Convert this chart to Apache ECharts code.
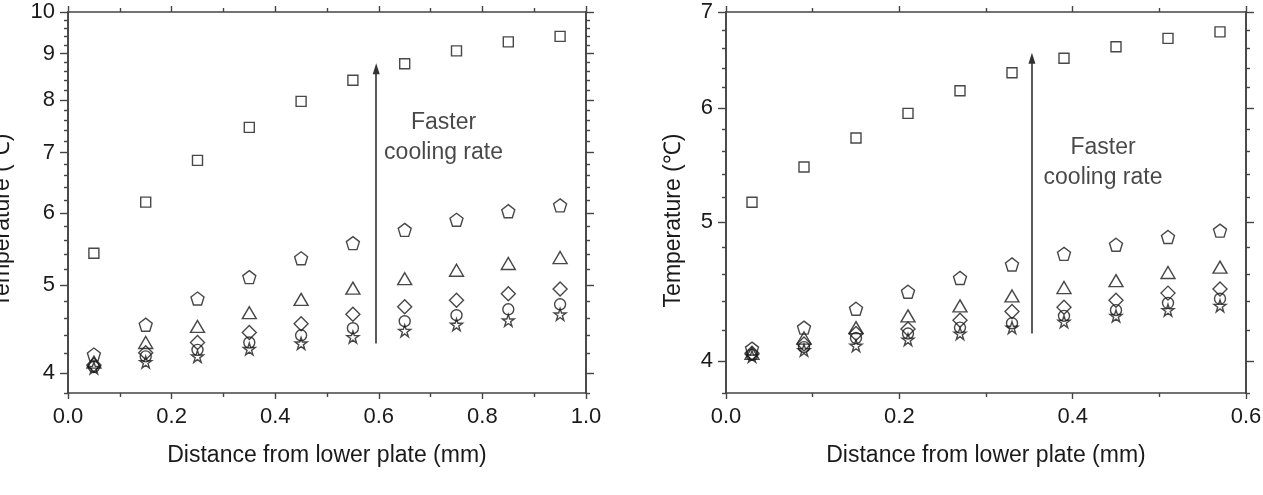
<!DOCTYPE html>
<html><head><meta charset="utf-8">
<script src="https://cdn.jsdelivr.net/npm/echarts@6/dist/echarts.min.js"></script>
<style>html,body{margin:0;padding:0;background:#fff}#c{width:1263px;height:495px}</style>
</head><body><div id="c"></div>
<script>
// ---------- data (left panel) ----------
const xLeft = [0.05, 0.15, 0.25, 0.35, 0.45, 0.55, 0.65, 0.75, 0.85, 0.95];
const leftSquare   = [5.42, 6.17, 6.86, 7.46, 7.97, 8.41, 8.77, 9.06, 9.27, 9.40];
const leftPentagon = [4.19, 4.52, 4.83, 5.10, 5.35, 5.56, 5.75, 5.90, 6.03, 6.12];
const leftTriangle = [4.11, 4.32, 4.50, 4.66, 4.82, 4.96, 5.08, 5.19, 5.28, 5.36];
const leftDiamond  = [4.08, 4.21, 4.32, 4.43, 4.53, 4.64, 4.73, 4.81, 4.89, 4.95];
const leftCircle   = [4.06, 4.17, 4.24, 4.32, 4.40, 4.48, 4.56, 4.63, 4.70, 4.76];
const leftStar     = [4.05, 4.11, 4.17, 4.25, 4.31, 4.38, 4.45, 4.52, 4.57, 4.64];

// ---------- data (right panel) ----------
const xRight = [0.03, 0.09, 0.15, 0.21, 0.27, 0.33, 0.39, 0.45, 0.51, 0.57];
const rightSquare   = [5.16, 5.46, 5.72, 5.95, 6.17, 6.35, 6.50, 6.62, 6.71, 6.78];
const rightPentagon = [4.08, 4.22, 4.35, 4.47, 4.57, 4.67, 4.75, 4.82, 4.88, 4.93];
const rightTriangle = [4.05, 4.15, 4.22, 4.30, 4.37, 4.44, 4.50, 4.55, 4.61, 4.65];
const rightDiamond  = [4.05, 4.11, 4.18, 4.21, 4.27, 4.33, 4.36, 4.41, 4.46, 4.49];
const rightCircle   = [4.04, 4.09, 4.15, 4.18, 4.22, 4.25, 4.30, 4.34, 4.39, 4.42];
const rightStar     = [4.03, 4.07, 4.10, 4.14, 4.18, 4.22, 4.26, 4.30, 4.34, 4.37];

// ---------- tick values ----------
const leftYMajor  = [4, 5, 6, 7, 8, 9, 10];
const leftYMinor  = [3.8, 4.2, 4.4, 4.6, 4.8, 5.2, 5.4, 5.6, 5.8, 6.2, 6.4, 6.6, 6.8,
                     7.2, 7.4, 7.6, 7.8, 8.2, 8.4, 8.6, 8.8, 9.2, 9.4, 9.6, 9.8];
const rightYMajor = [4, 5, 6, 7];
const rightYMinor = [3.8, 4.2, 4.4, 4.6, 4.8, 5.2, 5.4, 5.6, 5.8, 6.2, 6.4, 6.6, 6.8];
const leftXRange  = [0, 1.0];
const rightXRange = [0, 0.6];
const yRangeLeft  = [3.8, 10];
const yRangeRight = [3.8, 7];

// ---------- annotations ----------
const noteText = 'Faster\ncooling rate';
const xTitle = 'Distance from lower plate (mm)';
const yTitle = 'Temperature (\u2103)';
const leftArrow  = [0.595, 4.31, 8.66];   // x, from, to
const rightArrow = [0.353, 4.18, 6.50];
const leftNote   = [0.725, 7.26];
const rightNote  = [0.435, 5.50];

const FONT = "'Liberation Sans', Arial, sans-serif";
const AX = '#444';
const INK = '#1a1a1a';

const pentagonPath = 'path://M0,-1 L0.951,-0.309 L0.588,0.809 L-0.588,0.809 L-0.951,-0.309 Z';
const starPath = 'path://M0,-1 L0.225,-0.309 L0.951,-0.309 L0.363,0.118 L0.588,0.809 L0,0.382 L-0.588,0.809 L-0.363,0.118 L-0.951,-0.309 L-0.225,-0.309 Z';

function xAxes(grid, range, top) {
  return {
    type: 'value', gridIndex: grid, position: top ? 'top' : 'bottom',
    min: range[0], max: range[1], interval: 0.2,
    axisLine: { show: true, onZero: false, lineStyle: { color: AX, width: 1.6 } },
    axisTick: { show: true, inside: false, length: 6, lineStyle: { color: AX, width: 1.4 } },
    minorTick: { show: true, splitNumber: 2, length: 4, lineStyle: { color: AX, width: 1.4 } },
    splitLine: { show: false }, minorSplitLine: { show: false },
    axisLabel: { show: !top, margin: 13, fontSize: 22, fontFamily: FONT, color: INK,
                 formatter: v => v.toFixed(1) },
    name: top ? '' : xTitle, nameLocation: 'middle', nameGap: 51,
    nameTextStyle: { fontSize: 23, fontFamily: FONT, color: INK }
  };
}
function yAxes(grid, range, right, major, ticks, withLabel, gap) {
  return {
    type: 'log', logBase: 10, gridIndex: grid, position: right ? 'right' : 'left',
    min: range[0], max: range[1],
    axisLine: { show: true, onZero: false, lineStyle: { color: AX, width: 1.6 } },
    axisTick: { show: true, inside: false, length: major ? 8 : 4, customValues: ticks,
                lineStyle: { color: AX, width: 1.4 } },
    splitLine: { show: false },
    axisLabel: { show: withLabel, margin: 13, fontSize: 22, fontFamily: FONT, color: INK,
                 customValues: ticks, formatter: v => String(Math.round(v)) },
    name: withLabel ? yTitle : '', nameLocation: 'middle', nameGap: gap || 40,
    nameTextStyle: { fontSize: 23, fontFamily: FONT, color: INK, padding: [0, 36, 0, 0] }
  };
}

const styleHollow = { color: 'rgba(0,0,0,0)', borderColor: INK, borderWidth: 1.4 };
function sc(xs, ys, xi, yi, symbol, size) {
  return {
    type: 'scatter', xAxisIndex: xi, yAxisIndex: yi, symbol: symbol, symbolSize: size,
    itemStyle: styleHollow, silent: true, animation: false,
    data: xs.map((x, i) => [x, ys[i]])
  };
}
function arrowSeries(a, xi, yi) {
  return {
    type: 'scatter', xAxisIndex: xi, yAxisIndex: yi, data: [], silent: true, animation: false,
    markLine: {
      silent: true, animation: false, symbol: ['none', 'triangle'], symbolSize: [7, 11],
      label: { show: false },
      lineStyle: { color: '#333', width: 1.6, type: 'solid' },
      itemStyle: { color: '#222' },
      data: [[{ coord: [a[0], a[1]] }, { coord: [a[0], a[2]] }]]
    }
  };
}
function noteSeries(p, xi, yi) {
  return {
    type: 'scatter', xAxisIndex: xi, yAxisIndex: yi, symbolSize: 0, silent: true, animation: false,
    itemStyle: { color: '#fff' },
    data: [p],
    label: { show: true, position: 'inside', formatter: noteText, fontSize: 23, lineHeight: 30,
             fontFamily: FONT, color: INK, align: 'center',
             textBorderWidth: 0, textBorderColor: 'transparent' }
  };
}

const option = {
  backgroundColor: '#fff',
  animation: false,
  grid: [
    { left: 68, right: 677, top: 12, bottom: 102, containLabel: false, outerBoundsMode: 'none' },
    { left: 726, right: 17, top: 12, bottom: 102, containLabel: false, outerBoundsMode: 'none' }
  ],
  xAxis: [
    xAxes(0, leftXRange, false), xAxes(0, leftXRange, true),
    xAxes(1, rightXRange, false), xAxes(1, rightXRange, true)
  ],
  yAxis: [
    yAxes(0, yRangeLeft, false, true, leftYMajor, true, 54),
    yAxes(0, yRangeLeft, false, false, leftYMinor, false),
    yAxes(0, yRangeLeft, true, true, leftYMajor, false),
    yAxes(0, yRangeLeft, true, false, leftYMinor, false),
    yAxes(1, yRangeRight, false, true, rightYMajor, true, 41),
    yAxes(1, yRangeRight, false, false, rightYMinor, false),
    yAxes(1, yRangeRight, true, true, rightYMajor, false),
    yAxes(1, yRangeRight, true, false, rightYMinor, false)
  ],
  series: [
    sc(xLeft, leftSquare, 0, 0, 'rect', 10),
    sc(xLeft, leftPentagon, 0, 0, pentagonPath, 13),
    sc(xLeft, leftTriangle, 0, 0, 'triangle', [14, 12]),
    sc(xLeft, leftDiamond, 0, 0, 'diamond', [14, 14]),
    sc(xLeft, leftCircle, 0, 0, 'circle', 11),
    sc(xLeft, leftStar, 0, 0, starPath, 12),
    sc(xRight, rightSquare, 2, 4, 'rect', 10),
    sc(xRight, rightPentagon, 2, 4, pentagonPath, 13),
    sc(xRight, rightTriangle, 2, 4, 'triangle', [14, 12]),
    sc(xRight, rightDiamond, 2, 4, 'diamond', [14, 14]),
    sc(xRight, rightCircle, 2, 4, 'circle', 11),
    sc(xRight, rightStar, 2, 4, starPath, 12),
    arrowSeries(leftArrow, 0, 0),
    arrowSeries(rightArrow, 2, 4),
    noteSeries(leftNote, 0, 0),
    noteSeries(rightNote, 2, 4)
  ]
};
const chart = echarts.init(document.getElementById('c'), null, { renderer: 'canvas' });
chart.setOption(option);
</script>
</body></html>
